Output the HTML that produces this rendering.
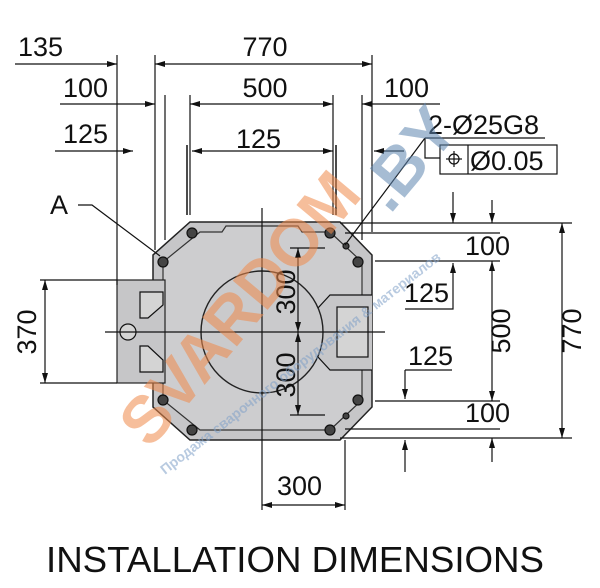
<!DOCTYPE html>
<html><head><meta charset="utf-8"><style>
html,body{margin:0;padding:0;background:#fff;width:600px;height:588px;overflow:hidden}
svg{display:block}
text{font-family:"Liberation Sans",Arial,sans-serif;fill:#111}
</style></head><body>
<svg width="600" height="588" viewBox="0 0 600 588" xmlns="http://www.w3.org/2000/svg">
<defs>
<marker id="a" viewBox="0 0 10 6" refX="10" refY="3" markerWidth="10" markerHeight="6" orient="auto-start-reverse" markerUnits="userSpaceOnUse"><path d="M0,0 L10,3 L0,6z" fill="#111"/></marker>
</defs>
<g stroke="#111" stroke-width="1.2" fill="none">
<path d="M190,222 L340,222 L372,255 L372,407 L340,440 L190,440 L153,407 L153,255 Z" fill="#c6c6c8" stroke="#222" stroke-width="1.5"/>
<path d="M200,232 L222,232 L226,226 L298,226 L302,232 L330,232 L362,262 L362,400 L330,430 L200,430 L163,400 L163,262 Z" fill="#cdcdcf" stroke="#333" stroke-width="1.2"/>
<rect x="117" y="280" width="48" height="103" fill="#c6c6c8" stroke="#222"/>
<path d="M140,292 L163,292 L163,305 L148,318 L140,318 Z" fill="#d4d4d4"/>
<path d="M140,372 L163,372 L163,360 L148,346 L140,346 Z" fill="#d4d4d4"/>
<circle cx="128" cy="332" r="8" fill="#d4d4d4"/>
<path d="M372,295 L330,295 L318,308 L318,357 L330,370 L372,370" fill="#c6c6c8"/>
<rect x="337" y="307" width="31" height="50" fill="#d4d4d4"/>
<circle cx="262" cy="332" r="61" fill="#cacacc" stroke="#222" stroke-width="1.4"/>
<g fill="#444" stroke="#111"><circle cx="163" cy="262" r="5"/><circle cx="192" cy="233" r="5"/><circle cx="330" cy="233" r="5"/><circle cx="358" cy="262" r="5"/><circle cx="163" cy="400" r="5"/><circle cx="192" cy="430" r="5"/><circle cx="330" cy="430" r="5"/><circle cx="358" cy="400" r="5"/><circle cx="346" cy="246" r="3"/><circle cx="346" cy="416" r="3"/></g>
<line x1="262" y1="208" x2="262" y2="510"/>
<line x1="105" y1="332" x2="385" y2="332"/>
<line x1="117" y1="55" x2="117" y2="285"/>
<line x1="155" y1="55" x2="155" y2="250"/>
<line x1="165" y1="95" x2="165" y2="240"/>
<line x1="372" y1="55" x2="372" y2="232"/>
<line x1="362" y1="95" x2="362" y2="240"/>
<line x1="190" y1="95" x2="190" y2="215"/>
<line x1="333" y1="95" x2="333" y2="215"/>
<line x1="187" y1="145" x2="187" y2="215" stroke-width="1.5"/>
<line x1="336" y1="145" x2="336" y2="215" stroke-width="1.5"/>
<line x1="15" y1="64" x2="117" y2="64" marker-end="url(#a)"/>
<line x1="155" y1="64" x2="372" y2="64" marker-start="url(#a)" marker-end="url(#a)"/>
<line x1="60" y1="104" x2="155" y2="104" marker-end="url(#a)"/>
<line x1="190" y1="104" x2="333" y2="104" marker-start="url(#a)" marker-end="url(#a)"/>
<line x1="440" y1="104" x2="362" y2="104" marker-end="url(#a)"/>
<line x1="55" y1="151" x2="133" y2="151" marker-end="url(#a)"/>
<line x1="192" y1="151" x2="333" y2="151" marker-start="url(#a)" marker-end="url(#a)"/>
<line x1="404" y1="151" x2="374" y2="151" marker-end="url(#a)"/>
<line x1="425" y1="138" x2="545" y2="138"/>
<line x1="425" y1="138" x2="345" y2="245"/>
<polyline points="425,138 425,158 440,158"/>
<rect x="440" y="145" width="117" height="29" fill="#fff"/>
<line x1="468" y1="145" x2="468" y2="174"/>
<circle cx="454" cy="159" r="5"/><line x1="454" y1="151" x2="454" y2="167"/><line x1="446" y1="159" x2="462" y2="159"/>
<line x1="340" y1="223" x2="572" y2="223"/>
<line x1="345" y1="233" x2="500" y2="233"/>
<line x1="375" y1="261" x2="500" y2="261"/>
<line x1="375" y1="401" x2="500" y2="401"/>
<line x1="345" y1="429" x2="500" y2="429"/>
<line x1="340" y1="438" x2="572" y2="438"/>
<line x1="562" y1="223" x2="562" y2="438" marker-start="url(#a)" marker-end="url(#a)"/>
<line x1="492" y1="261" x2="492" y2="401" marker-start="url(#a)" marker-end="url(#a)"/>
<line x1="492" y1="200" x2="492" y2="223" marker-end="url(#a)"/>
<line x1="492" y1="462" x2="492" y2="438" marker-end="url(#a)"/>
<line x1="453" y1="192" x2="453" y2="223" marker-end="url(#a)"/>
<polyline points="405,309 453,309 453,263" marker-end="url(#a)"/>
<polyline points="405,370 405,399" marker-end="url(#a)"/>
<line x1="405" y1="370" x2="452" y2="370"/>
<line x1="405" y1="472" x2="405" y2="440" marker-end="url(#a)"/>
<line x1="40" y1="280" x2="117" y2="280"/>
<line x1="40" y1="383" x2="117" y2="383"/>
<line x1="45" y1="280" x2="45" y2="383" marker-start="url(#a)" marker-end="url(#a)"/>
<polyline points="78,205 92,205 160,256"/>
<line x1="290" y1="248" x2="325" y2="248"/>
<line x1="290" y1="415" x2="325" y2="415"/>
<line x1="298" y1="248" x2="298" y2="332" marker-start="url(#a)" marker-end="url(#a)"/>
<line x1="298" y1="332" x2="298" y2="415" marker-start="url(#a)" marker-end="url(#a)"/>
<line x1="345" y1="440" x2="345" y2="510"/>
<line x1="262" y1="505" x2="345" y2="505" marker-start="url(#a)" marker-end="url(#a)"/>
</g>
<g font-size="27">
<text x="18" y="56">135</text>
<text x="265" y="56" text-anchor="middle">770</text>
<text x="63" y="97">100</text>
<text x="265" y="97" text-anchor="middle">500</text>
<text x="384" y="97">100</text>
<text x="63" y="143">125</text>
<text x="236" y="148">125</text>
<text x="428" y="134">2-Ø25G8</text>
<text x="470" y="170">Ø0.05</text>
<text x="50" y="214">A</text>
<text x="465" y="255">100</text>
<text x="465" y="422">100</text>
<text x="404" y="302">125</text>
<text x="408" y="365">125</text>
<text x="277" y="495">300</text>
<text transform="translate(36,332) rotate(-90)" text-anchor="middle">370</text>
<text transform="translate(510,331) rotate(-90)" text-anchor="middle">500</text>
<text transform="translate(581,331) rotate(-90)" text-anchor="middle">770</text>
<text transform="translate(295,292) rotate(-90)" text-anchor="middle">300</text>
<text transform="translate(295,375) rotate(-90)" text-anchor="middle">300</text>
</g>
<text x="295" y="572" font-size="36" text-anchor="middle" textLength="498" lengthAdjust="spacingAndGlyphs">INSTALLATION DIMENSIONS</text>
<g opacity="0.55">
<text transform="translate(150,450) rotate(-50)" font-size="66" font-weight="bold" style="fill:#f08a4b">SVARDOM</text>
<text transform="translate(390,215) rotate(-50)" font-size="66" font-weight="bold" style="fill:#5f86b0">.BY</text>
<text transform="translate(165,475) rotate(-38)" font-size="14" font-weight="bold" style="fill:#7fa0c8">Продажа сварочного оборудования &amp; материалов</text>
</g>
</svg>
</body></html>
